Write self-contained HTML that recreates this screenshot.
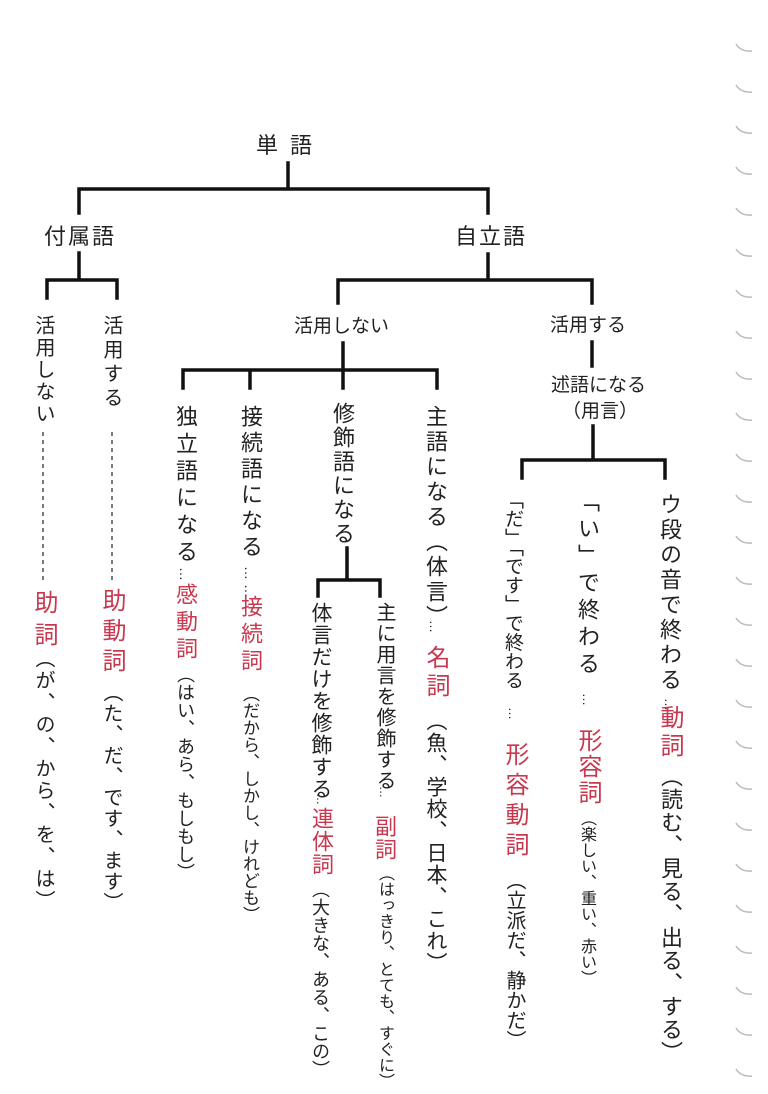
<!DOCTYPE html>
<html><head><meta charset="utf-8"><style>
html,body{margin:0;padding:0;background:#fff;}
#c{position:relative;width:768px;height:1094px;overflow:hidden;background:#fff;font-family:"Liberation Sans","Noto Sans CJK JP",sans-serif;color:#222;}
.v{position:absolute;writing-mode:vertical-rl;line-height:1;white-space:nowrap;}
.h{position:absolute;line-height:1;white-space:nowrap;font-size:22px;}
.r{color:#c8384f;}
svg{position:absolute;left:0;top:0;}
</style></head><body><div id="c">
<svg width="768" height="1094">
<g stroke="#111" stroke-width="3.5" fill="none" stroke-linecap="square">
<path d="M288 163V189M79 213V189H488V213"/>
<path d="M79 253V280M47 298V280H117V298"/>
<path d="M488 254V280M338 303V280H592V303"/>
<path d="M343 343V370M183 388V370H437V388M250 370V388M343 370V388"/>
<path d="M347 548V580M318 596V580H380V596"/>
<path d="M592 342V366"/>
<path d="M593 426V460M522 478V460H665V478"/>
</g>
<g stroke="#333" stroke-width="1.3" stroke-dasharray="4 4">
<path d="M43 432V584M112 432V580"/>
</g>
<g stroke="#bbb" stroke-width="1.5" fill="none">
<path d="M736 44q5 8 16 7"/><path d="M736 85q5 8 16 7"/><path d="M736 126q5 8 16 7"/><path d="M736 167q5 8 16 7"/><path d="M736 208q5 8 16 7"/><path d="M736 249q5 8 16 7"/><path d="M736 290q5 8 16 7"/><path d="M736 331q5 8 16 7"/><path d="M736 372q5 8 16 7"/><path d="M736 413q5 8 16 7"/><path d="M736 454q5 8 16 7"/><path d="M736 495q5 8 16 7"/><path d="M736 536q5 8 16 7"/><path d="M736 577q5 8 16 7"/><path d="M736 618q5 8 16 7"/><path d="M736 659q5 8 16 7"/><path d="M736 700q5 8 16 7"/><path d="M736 741q5 8 16 7"/><path d="M736 782q5 8 16 7"/><path d="M736 823q5 8 16 7"/><path d="M736 864q5 8 16 7"/><path d="M736 905q5 8 16 7"/><path d="M736 946q5 8 16 7"/><path d="M736 987q5 8 16 7"/><path d="M736 1028q5 8 16 7"/><path d="M736 1069q5 8 16 7"/>
</g>
</svg>

<div class="h" style="left:256px;top:135px;letter-spacing:12px;">単語</div>
<div class="h" style="left:44px;top:226px;letter-spacing:2px;">付属語</div>
<div class="h" style="left:455px;top:226px;letter-spacing:2px;">自立語</div>
<div class="h" style="left:294px;top:317px;font-size:19px;">活用しない</div>
<div class="h" style="left:550px;top:316px;font-size:19px;">活用する</div>
<div class="h" style="left:551px;top:376px;font-size:19px;">述語になる</div>
<div class="h" style="left:562px;top:402px;font-size:19px;">（用言）</div>

<!-- 付属語 columns -->
<div class="v" style="left:33px;top:315px;font-size:20px;letter-spacing:2px;">活用しない</div>
<div class="v r" style="left:31px;top:590px;font-size:24px;letter-spacing:8px;">助詞</div>
<div class="v" style="left:33px;top:648px;font-size:20px;letter-spacing:2px;">（が、の、から、を、は）</div>

<div class="v" style="left:101px;top:315px;font-size:20px;letter-spacing:4px;">活用する</div>
<div class="v r" style="left:99px;top:588px;font-size:24px;letter-spacing:6px;">助動詞</div>
<div class="v" style="left:101px;top:682px;font-size:20px;letter-spacing:1px;">（た、だ、です、ます）</div>

<!-- 独立語 -->
<div class="v" style="left:174px;top:405px;font-size:22px;letter-spacing:5px;">独立語になる</div>
<div class="v" style="left:178px;top:567px;font-size:14px;">…</div>
<div class="v r" style="left:174px;top:583px;font-size:22px;letter-spacing:5px;">感動詞</div>
<div class="v" style="left:176px;top:665px;font-size:18px;letter-spacing:0px;">（はい、あら、もしもし）</div>

<!-- 接続語 -->
<div class="v" style="left:239px;top:405px;font-size:22px;letter-spacing:4px;">接続語になる</div>
<div class="v" style="left:243px;top:566px;font-size:14px;letter-spacing:4px;">……</div>
<div class="v r" style="left:239px;top:595px;font-size:22px;letter-spacing:5px;">接続詞</div>
<div class="v" style="left:241px;top:685px;font-size:17px;letter-spacing:0px;">（だから、しかし、けれども）</div>

<!-- 修飾語 -->
<div class="v" style="left:331px;top:402px;font-size:22px;letter-spacing:2px;">修飾語になる</div>

<div class="v" style="left:310px;top:602px;font-size:21px;letter-spacing:1px;">体言だけを修飾する</div>
<div class="v" style="left:315px;top:793px;font-size:12px;">…</div>
<div class="v r" style="left:310px;top:807px;font-size:22px;letter-spacing:1px;">連体詞</div>
<div class="v" style="left:311px;top:880px;font-size:18px;letter-spacing:0px;">（大きな、ある、この）</div>

<div class="v" style="left:374px;top:602px;font-size:20px;letter-spacing:1px;">主に用言を修飾する</div>
<div class="v" style="left:378px;top:786px;font-size:12px;">…</div>
<div class="v r" style="left:373px;top:815px;font-size:22px;letter-spacing:1px;">副詞</div>
<div class="v" style="left:376px;top:865px;font-size:16px;letter-spacing:0px;">（はっきり、とても、すぐに）</div>

<!-- 主語 -->
<div class="v" style="left:424px;top:405px;font-size:22px;letter-spacing:3px;">主語になる（体言）</div>
<div class="v" style="left:428px;top:620px;font-size:13px;">…</div>
<div class="v r" style="left:423px;top:645px;font-size:24px;letter-spacing:4px;">名詞</div>
<div class="v" style="left:425px;top:710px;font-size:21px;letter-spacing:1px;">（魚、学校、日本、これ）</div>

<!-- 用言 -->
<div class="v" style="left:503px;top:490px;font-size:19px;letter-spacing:0px;">「だ」「です」で終わる</div>
<div class="v" style="left:507px;top:707px;font-size:13px;">…</div>
<div class="v r" style="left:502px;top:742px;font-size:24px;letter-spacing:6px;">形容動詞</div>
<div class="v" style="left:504px;top:870px;font-size:20px;letter-spacing:0px;">（立派だ、静かだ）</div>

<div class="v" style="left:576px;top:490px;font-size:22px;letter-spacing:5px;">「い」で終わる</div>
<div class="v" style="left:581px;top:693px;font-size:13px;">…</div>
<div class="v r" style="left:575px;top:728px;font-size:24px;letter-spacing:2px;">形容詞</div>
<div class="v" style="left:578px;top:810px;font-size:16px;letter-spacing:0px;">（楽しい、重い、赤い）</div>

<div class="v" style="left:658px;top:493px;font-size:22px;letter-spacing:3px;">ウ段の音で終わる</div>
<div class="v" style="left:663px;top:698px;font-size:13px;">…</div>
<div class="v r" style="left:657px;top:705px;font-size:24px;letter-spacing:4px;">動詞</div>
<div class="v" style="left:659px;top:765px;font-size:22px;letter-spacing:1px;">（読む、見る、出る、する）</div>
</div></body></html>
